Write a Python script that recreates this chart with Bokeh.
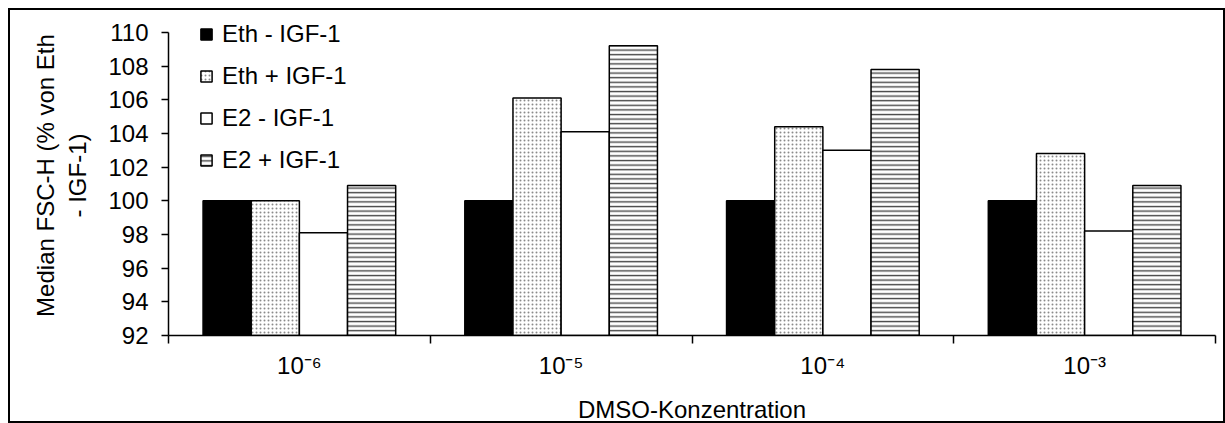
from bokeh.plotting import figure
from bokeh.models import Range1d, FixedTicker, Legend, LegendItem, LinearAxis
from bokeh.embed import file_html
from bokeh.resources import INLINE

# ---- data ----
categories = ["10\u207b\u2076", "10\u207b\u2075", "10\u207b\u2074", "10\u207b\u00b3"]
series_names = ["Eth - IGF-1", "Eth + IGF-1", "E2 - IGF-1", "E2 + IGF-1"]
eth_minus = [100.0, 100.0, 100.0, 100.0]
eth_plus = [100.0, 106.1, 104.4, 102.8]
e2_minus = [98.1, 104.1, 103.0, 98.2]
e2_plus = [100.9, 109.2, 107.8, 100.9]
y_ticks = [92, 94, 96, 98, 100, 102, 104, 106, 108, 110]

FONT = "Liberation Sans"
FS = "24px"

p = figure(width=1217, height=415, x_range=Range1d(0, 4), y_range=Range1d(92, 111),
           output_backend="svg", toolbar_location=None,
           min_border_left=158, min_border_right=12, min_border_top=5, min_border_bottom=86)
p.styles = {"border": "2px solid black", "margin-left": "8px", "margin-top": "8px"}
p.outline_line_color = None
p.grid.visible = False

bw = 0.184
series = [eth_minus, eth_plus, e2_minus, e2_plus]
styles = [
    dict(fill_color="black"),
    dict(fill_color="white", hatch_pattern="dot", hatch_scale=4, hatch_color="#8a8a8a", hatch_weight=1),
    dict(fill_color="white"),
    dict(fill_color="white", hatch_pattern="horizontal_line", hatch_scale=4.6, hatch_color="#444444", hatch_weight=1.4),
]
items = []
for j, (vals, st) in enumerate(zip(series, styles)):
    xs = [i + 0.5 + (j - 1.5) * bw for i in range(len(vals))]
    r = p.vbar(x=xs, top=vals, bottom=92, width=bw, line_color="black", line_width=1.5, **st)
    items.append(LegendItem(label=series_names[j], renderers=[r]))

legend = Legend(items=items, location=(31, 161), border_line_color=None, background_fill_alpha=0,
                label_text_font=FONT, label_text_font_size=FS, label_text_color="black",
                glyph_width=14, glyph_height=14,
                label_height=27, spacing=14, padding=0, margin=0, label_standoff=9)
p.add_layout(legend)

# y axis
yax = p.yaxis[0]
yax.bounds = (92, 110)
yax.ticker = FixedTicker(ticks=y_ticks)
yax.major_label_text_font = FONT
yax.major_label_text_font_size = FS
yax.major_label_text_color = "black"
yax.axis_line_color = "black"
yax.axis_line_width = 1.5
yax.major_tick_line_color = "black"
yax.major_tick_line_width = 1.5
yax.major_tick_out = 7
yax.major_tick_in = 0
yax.minor_tick_line_color = None
yax.major_label_standoff = 13
yax.axis_label = "Median FSC-H (% von Eth\n- IGF-1)"
yax.axis_label_text_font = FONT
yax.axis_label_text_font_size = FS
yax.axis_label_text_font_style = "normal"
yax.axis_label_text_color = "black"
yax.axis_label_standoff = 14
yax.axis_label_text_align = "center"

# x axis: boundary ticks
xax = p.xaxis[0]
xax.ticker = FixedTicker(ticks=[0, 1, 2, 3, 4])
xax.major_label_overrides = {0: "", 1: "", 2: "", 3: "", 4: ""}
xax.major_label_text_font_size = "1px"
xax.axis_line_color = "black"
xax.axis_line_width = 1.5
xax.major_tick_line_color = "black"
xax.major_tick_line_width = 1.5
xax.major_tick_out = 8
xax.major_tick_in = 0
xax.minor_tick_line_color = None
xax.major_label_standoff = 0

# second x axis for category labels
cax = LinearAxis(ticker=FixedTicker(ticks=[0.5, 1.5, 2.5, 3.5]),
                 major_label_overrides={0.5: categories[0], 1.5: categories[1],
                                        2.5: categories[2], 3.5: categories[3]})
cax.axis_line_color = None
cax.major_tick_line_color = None
cax.minor_tick_line_color = None
cax.major_label_text_font = FONT
cax.major_label_text_font_size = FS
cax.major_label_text_color = "black"
cax.major_label_standoff = 2
cax.axis_label = "DMSO-Konzentration"
cax.axis_label_text_font = FONT
cax.axis_label_text_font_size = FS
cax.axis_label_text_font_style = "normal"
cax.axis_label_text_color = "black"
cax.axis_label_standoff = 14
p.add_layout(cax, "below")

open("out.html", "w").write(file_html(p, INLINE))
